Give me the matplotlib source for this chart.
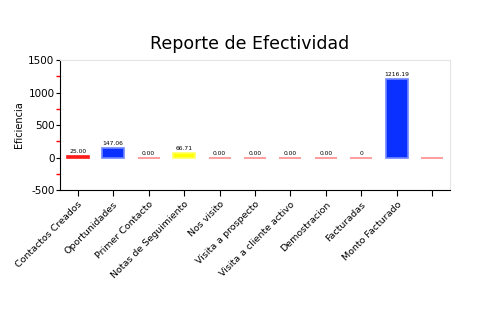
import matplotlib
matplotlib.use("Agg")
import matplotlib.pyplot as plt

plt.rcParams["axes.unicode_minus"] = False

categorias = ["Contactos Creados", "Oportunidades", "Primer Contacto", "Notas de Seguimiento",
              "Nos visito", "Visita a prospecto", "Visita a cliente activo", "Demostracion",
              "Facturadas", "Monto Facturado", ""]
valores = [25.00, 147.06, 0.00, 66.71, 0.00, 0.00, 0.00, 0.00, 0, 1216.19, 0]
etiquetas = ["25.00", "147.06", "0.00", "66.71", "0.00", "0.00", "0.00", "0.00", "0", "1216.19", ""]
colores = ["#ff1a1a", "#0a30ff", "#ff8c8c", "#ffff00", "#ff8c8c", "#ff8c8c",
           "#ff8c8c", "#ff8c8c", "#ff8c8c", "#0a30ff", "#ff8c8c"]
bordes = ["#ff1a1a", "#6f88ff", "#ff8c8c", "#ffff60", "#ff8c8c", "#ff8c8c",
          "#ff8c8c", "#ff8c8c", "#ff8c8c", "#6f88ff", "#ff8c8c"]

fig = plt.figure(figsize=(5, 3.3), dpi=100)
ax = fig.add_axes([0.12, 0.424, 0.78, 0.394])

x = range(len(categorias))
ax.bar(x, valores, width=0.62, color=colores, edgecolor=bordes, linewidth=1.2)
for xi, v, t in zip(x, valores, etiquetas):
    if t:
        ax.text(xi, v + 30, t, ha="center", va="bottom", fontsize=4.3, color="black")

ax.set_xlim(-0.5, len(categorias) - 0.5)
ax.set_ylim(-500, 1500)
ax.set_yticks([-500, 0, 500, 1000, 1500])
ax.set_yticks([-250, 250, 750, 1250], minor=True)
ax.tick_params(axis="y", which="minor", length=3, color="red", width=1)
ax.tick_params(axis="y", which="major", length=3, labelsize=7.5, pad=1)
ax.set_xticks(list(x))
ax.set_xticklabels(categorias, rotation=45, ha="right", rotation_mode="anchor", fontsize=6.8)
ax.tick_params(axis="x", length=4, pad=3)
ax.set_ylabel("Eficiencia", fontsize=7, labelpad=3)

for s in ("top", "right"):
    ax.spines[s].set_color("#e4e4e4")
for s in ("left", "bottom"):
    ax.spines[s].set_color("black")

fig.suptitle("Reporte de Efectividad", y=0.895, fontsize=12.5)
fig.savefig("out.png", dpi=100)
